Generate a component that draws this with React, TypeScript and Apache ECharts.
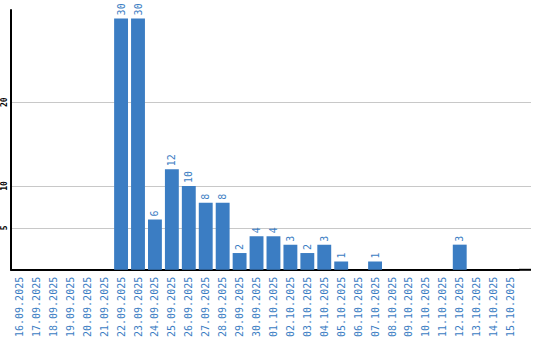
import React, { useEffect, useRef } from "react";
import * as echarts from "echarts";

const categories = [
  "16.09.2025", "17.09.2025", "18.09.2025", "19.09.2025", "20.09.2025", "21.09.2025",
  "22.09.2025", "23.09.2025", "24.09.2025", "25.09.2025", "26.09.2025", "27.09.2025",
  "28.09.2025", "29.09.2025", "30.09.2025", "01.10.2025", "02.10.2025", "03.10.2025",
  "04.10.2025", "05.10.2025", "06.10.2025", "07.10.2025", "08.10.2025", "09.10.2025",
  "10.10.2025", "11.10.2025", "12.10.2025", "13.10.2025", "14.10.2025", "15.10.2025",
];
const values = [0, 0, 0, 0, 0, 0, 30, 30, 6, 12, 10, 8, 8, 2, 4, 4, 3, 2, 3, 1, 0, 1, 0, 0, 0, 0, 3, 0, 0, 0];
const yTickLabels = [5, 10, 20];
const gridValues = [5, 10, 20];

const BLUE = "#3b7dc3";
const FONT = "DejaVu Sans Mono";
const PLOT_RIGHT = 519;
const LINE_END = 531;

export default function App() {
  const ref = useRef<HTMLDivElement>(null);
  useEffect(() => {
    if (!ref.current) return;
    const chart = echarts.init(ref.current, undefined, { renderer: "svg" });
    chart.setOption({
      animation: false,
      grid: { left: 9, width: 510, top: 10, bottom: 70, containLabel: false },
      xAxis: {
        type: "category",
        data: categories,
        axisLine: { show: true, lineStyle: { color: "#000", width: 2 } },
        axisTick: { show: false },
        axisLabel: {
          rotate: 90,
          interval: 0,
          color: BLUE,
          fontFamily: FONT,
          fontSize: 10,
          margin: 7,
        },
      },
      yAxis: {
        type: "value",
        min: 0,
        max: 31,
        interval: 5,
        axisLine: { show: true, lineStyle: { color: "#000", width: 2 } },
        axisTick: { show: false },
        splitLine: { show: false },
        axisLabel: {
          rotate: 90,
          margin: 3,
          color: "#000",
          fontFamily: FONT,
          fontSize: 8,
          fontWeight: "bold",
          formatter: (v: number) => (yTickLabels.includes(v) ? String(v) : ""),
        },
      },
      series: [
        {
          type: "bar",
          data: values,
          barCategoryGap: "18%",
          itemStyle: { color: BLUE },
          label: {
            show: true,
            position: "top",
            rotate: 90,
            align: "left",
            verticalAlign: "middle",
            distance: 3,
            color: BLUE,
            fontFamily: FONT,
            fontSize: 10,
            formatter: (p: any) => (p.value ? String(p.value) : ""),
          },
          markLine: {
            silent: true,
            symbol: "none",
            label: { show: false },
            lineStyle: { color: "#c8c8c8", type: "solid", width: 1 },
            data: gridValues.map((v) => ({ yAxis: v })),
            z: 0,
          },
          z: 2,
        },
      ],
    });
    const y0 = chart.convertToPixel({ yAxisIndex: 0 }, 0) as number;
    const ext = gridValues.map((v) => {
      const y = Math.round(chart.convertToPixel({ yAxisIndex: 0 }, v) as number) + 0.5;
      return {
        type: "line",
        z: 0,
        shape: { x1: PLOT_RIGHT, y1: y, x2: LINE_END, y2: y },
        style: { stroke: "#c8c8c8", lineWidth: 1 },
      };
    });
    chart.setOption({
      graphic: [
        ...ext,
        {
          type: "line",
          shape: { x1: PLOT_RIGHT, y1: y0, x2: LINE_END, y2: y0 },
          style: { stroke: "#000", lineWidth: 2 },
        },
      ],
    });
    return () => chart.dispose();
  }, []);
  return <div ref={ref} style={{ width: 540, height: 340, position: "absolute", left: 0, top: 0 }} />;
}
